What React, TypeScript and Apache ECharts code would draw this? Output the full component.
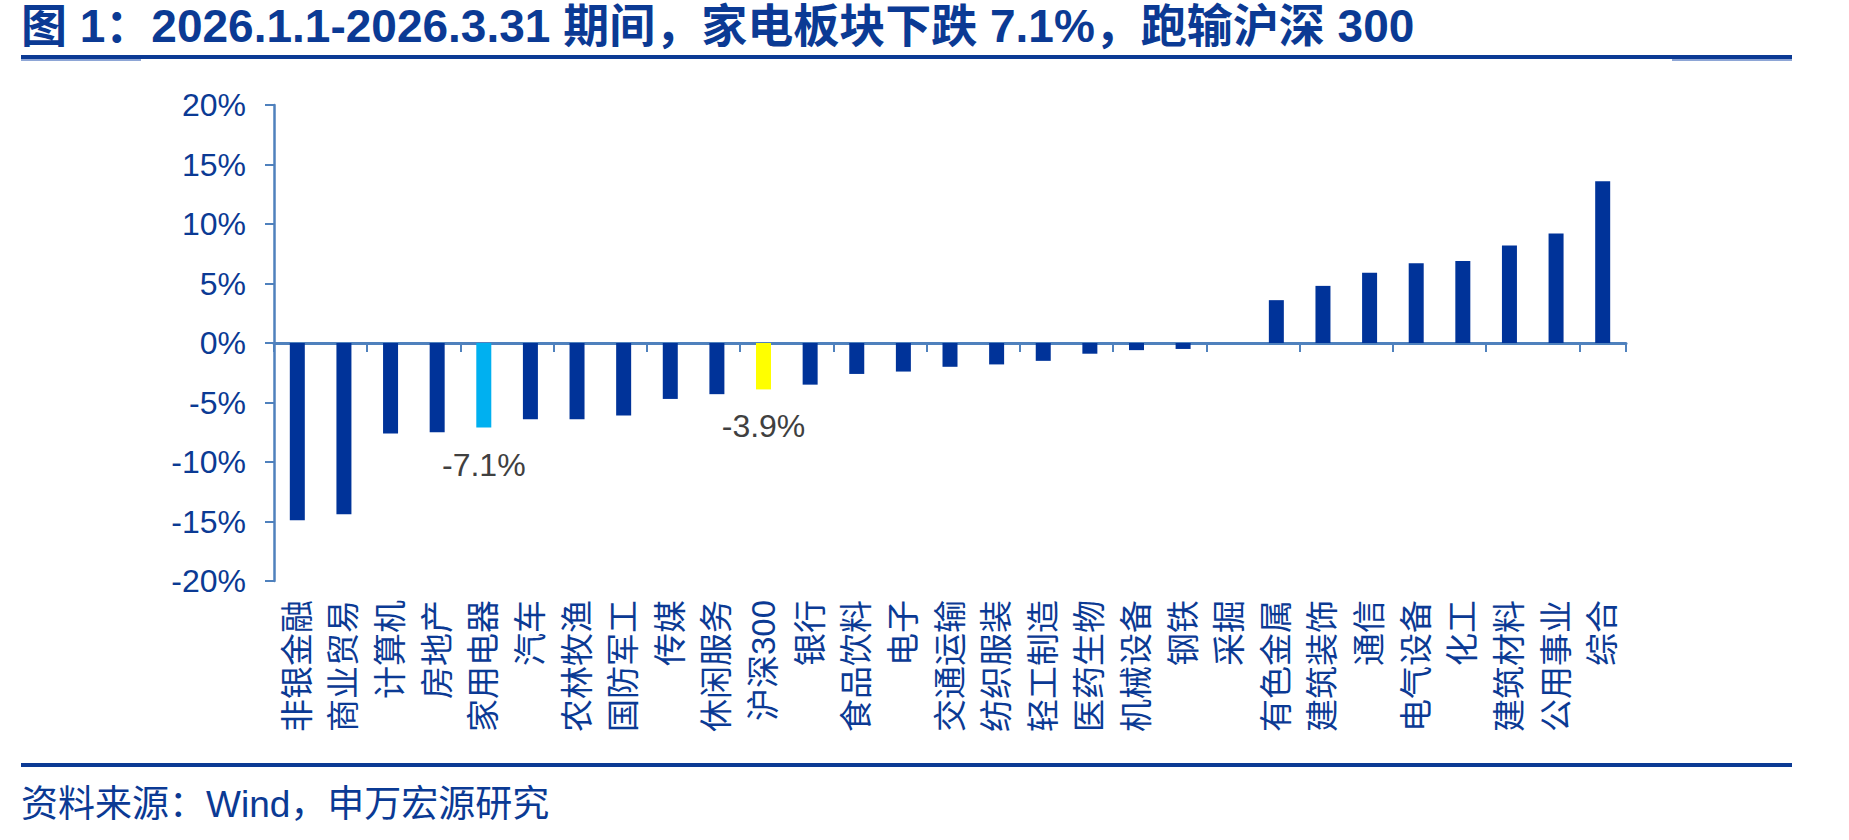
import React, { useEffect, useRef } from "react";
import * as echarts from "echarts";

const titleText = "图 1：2026.1.1-2026.3.31 期间，家电板块下跌 7.1%，跑输沪深 300";
const sourceText = "资料来源：Wind，申万宏源研究";

const categories = [
  "非银金融", "商业贸易", "计算机", "房地产", "家用电器", "汽车", "农林牧渔", "国防军工",
  "传媒", "休闲服务", "沪深300", "银行", "食品饮料", "电子", "交通运输", "纺织服装",
  "轻工制造", "医药生物", "机械设备", "钢铁", "采掘", "有色金属", "建筑装饰", "通信",
  "电气设备", "化工", "建筑材料", "公用事业", "综合",
];

const values = [
  -14.9, -14.4, -7.6, -7.5, -7.1, -6.4, -6.4, -6.1,
  -4.7, -4.3, -3.9, -3.5, -2.6, -2.4, -2.0, -1.8,
  -1.5, -0.9, -0.6, -0.5, 0.0, 3.6, 4.8, 5.9,
  6.7, 6.9, 8.2, 9.2, 13.6,
];

const yTicks = { min: -20, max: 20, interval: 5 };

const highlighted: Record<string, string> = {
  "家用电器": "#00B0F0",
  "沪深300": "#FFFF00",
};

const BLUE = "#0B3A94";
const BAR = "#003399";
const AXIS = "#4F81BD";
const LATIN = "'Liberation Sans', Arial, 'Noto Sans CJK SC', sans-serif";

export default function App() {
  const ref = useRef<HTMLDivElement>(null);

  useEffect(() => {
    if (!ref.current) return;
    const chart = echarts.init(ref.current, undefined, { renderer: "svg" });

    const barData = categories.map((c, i) => {
      const color = highlighted[c];
      return {
        value: values[i],
        itemStyle: { color: color || BAR },
        label: color
          ? {
              show: true,
              position: "bottom",
              distance: 21,
              formatter: (p: any) => `${p.value}%`,
              fontSize: 32,
              color: "#404040",
              fontFamily: LATIN,
            }
          : { show: false },
      };
    });

    chart.setOption({
      animation: false,
      backgroundColor: "#ffffff",
      grid: { left: 274, right: 223, top: 105, bottom: 840 - 581, containLabel: false },
      xAxis: [
        {
          type: "category",
          data: categories,
          position: "bottom",
          axisLine: { show: false, onZero: false },
          axisTick: { show: false },
          axisLabel: {
            interval: 0,
            rotate: 90,
            margin: 19,
            fontSize: 33,
            padding: [14, 0, 0, 0],
            color: BLUE,
            fontFamily: LATIN,
          },
        },
        {
          type: "category",
          data: categories,
          position: "top",
          axisLine: { show: true, onZero: true, lineStyle: { color: AXIS, width: 3 } },
          axisTick: { show: true, inside: true, length: 9, lineStyle: { color: AXIS, width: 2 } },
          axisLabel: { show: false },
          splitLine: { show: false },
        },
      ],
      yAxis: {
        type: "value",
        min: yTicks.min,
        max: yTicks.max,
        interval: yTicks.interval,
        axisLine: { show: true, lineStyle: { color: AXIS, width: 2.5 } },
        axisTick: { show: true, length: 9, lineStyle: { color: AXIS, width: 2 } },
        splitLine: { show: false },
        axisLabel: {
          formatter: "{value}%",
          fontSize: 32,
          margin: 28,
          color: BLUE,
          fontFamily: LATIN,
        },
      },
      series: [
        {
          type: "bar",
          xAxisIndex: 0,
          barWidth: 15,
          data: barData,
        },
      ],
      graphic: [
        {
          type: "text",
          left: 21,
          top: 3,
          style: {
            text: titleText,
            fontSize: 46,
            fontWeight: "bold",
            fill: BLUE,
            fontFamily: LATIN,
          },
        },
        {
          type: "rect",
          shape: { x: 21, y: 55, width: 1771, height: 4 },
          style: { fill: "#0B3A94" },
        },
        {
          type: "rect",
          shape: { x: 21, y: 59, width: 120, height: 2 },
          style: { fill: "#8EA6D6" },
        },
        {
          type: "rect",
          shape: { x: 1672, y: 59, width: 120, height: 2 },
          style: { fill: "#8EA6D6" },
        },
        {
          type: "rect",
          shape: { x: 21, y: 763, width: 1771, height: 4 },
          style: { fill: "#0B3A94" },
        },
        {
          type: "text",
          left: 21,
          top: 786,
          style: {
            text: sourceText,
            fontSize: 37,
            fill: BLUE,
            fontFamily: LATIN,
          },
        },
      ],
    });

    return () => chart.dispose();
  }, []);

  return (
    <div
      ref={ref}
      style={{ position: "absolute", left: 0, top: 0, width: 1849, height: 840, background: "#fff" }}
    />
  );
}
